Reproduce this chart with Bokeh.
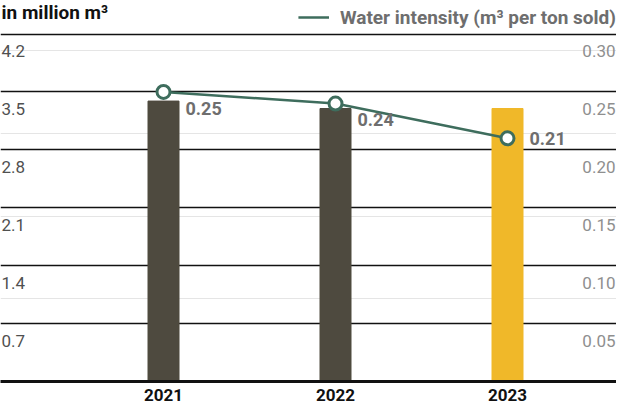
from bokeh.plotting import figure
from bokeh.models import (Range1d, FixedTicker, Grid, Label, Legend,
                          LegendItem, ColumnDataSource)
from bokeh.core.properties import value
from bokeh.embed import file_html
from bokeh.resources import INLINE

# ---- data ----
years = [2021, 2022, 2023]
year_labels = ["2021", "2022", "2023"]
volume = [3.39, 3.30, 3.30]          # million m³ (bars)
intensity = [0.25, 0.24, 0.21]        # m³ per ton sold (line)
intensity_labels = ["0.25", "0.24", "0.21"]
left_ticks = [0.7, 1.4, 2.1, 2.8, 3.5, 4.2]
left_tick_labels = ["0.7", "1.4", "2.1", "2.8", "3.5", "4.2"]
right_ticks = [0.05, 0.10, 0.15, 0.20, 0.25, 0.30]
right_tick_labels = ["0.05", "0.10", "0.15", "0.20", "0.25", "0.30"]

# ---- style ----
FONT = "Roboto"
bar_colors = ["#4e4a3f", "#4e4a3f", "#f0b829"]
green = "#3e6d5d"
W, H = 616, 403
BOTTOM = 17
frame_h = H - BOTTOM
top_px = 352  # px between 0 and top tick
px_per_year = 172.0
first_center_px = 163.0
x0 = years[0] - first_center_px / px_per_year

p = figure(width=W, height=H, output_backend="svg", toolbar_location=None,
           x_range=Range1d(x0, x0 + W / px_per_year),
           y_range=Range1d(0, left_ticks[-1] * frame_h / top_px),
           y_axis_location=None, x_axis_location="below",
           min_border_left=0, min_border_right=0, min_border_top=0,
           min_border_bottom=BOTTOM)
p.extra_y_ranges = {"right": Range1d(0, right_ticks[-1] * frame_h / top_px)}
p.outline_line_color = None
p.xgrid.visible = False
p.background_fill_color = "white"
p.border_fill_color = "white"

grid = Grid(dimension=1, ticker=FixedTicker(ticks=left_ticks),
            grid_line_color="#111111", grid_line_width=1.7)
p.add_layout(grid)

xa = p.xaxis[0]
xa.ticker = FixedTicker(ticks=years)
xa.major_label_overrides = {y: l for y, l in zip(years, year_labels)}
xa.axis_line_color = "#111111"
xa.axis_line_width = 3
xa.major_tick_line_color = None
xa.minor_tick_line_color = None
xa.major_label_text_font = FONT
xa.major_label_text_font_style = "bold"
xa.major_label_text_font_size = "17px"
xa.major_label_text_color = "#111111"
xa.major_label_standoff = 1

src = ColumnDataSource(dict(x=years, top=volume, color=bar_colors))
p.vbar(x="x", top="top", width=31 / px_per_year, color="color", source=src)

line_r = p.line(years, intensity, y_range_name="right", line_color=green, line_width=2.5)
p.scatter(years, intensity, y_range_name="right", size=13, fill_color="white",
          line_color=green, line_width=3)

label_dy = [17, 16, 0]
p.text(x=years, y=intensity, text=intensity_labels, y_range_name="right",
       x_offset=22, y_offset=label_dy, text_baseline="middle", text_align="left",
       text_font=value(FONT), text_font_style="bold", text_font_size="18px",
       text_color="#6e6e6e")

for v, t in zip(left_ticks, left_tick_labels):
    p.add_layout(Label(x=1, x_units="screen", y=v, y_offset=-11, text=t,
                       text_baseline="top", text_align="left", text_font=FONT,
                       text_font_size="17px", text_color="#505050"))
for v, t in zip(right_ticks, right_tick_labels):
    p.add_layout(Label(x=W - 1, x_units="screen", y=v, y_range_name="right",
                       y_offset=-11, text=t, text_baseline="top", text_align="right",
                       text_font=FONT, text_font_size="17px", text_color="#8f8f8f"))

p.add_layout(Label(x=1, x_units="screen", y=frame_h - 17, y_units="screen",
                   text="in million m³", text_baseline="middle", text_align="left",
                   text_font=FONT, text_font_style="bold", text_font_size="19px",
                   text_color="#111111"))

legend = Legend(items=[LegendItem(label="Water intensity (m³ per ton sold)", renderers=[line_r])],
                location="top_right", margin=0, padding=0, glyph_width=31,
                label_standoff=11, label_text_font=FONT, label_text_font_style="bold",
                label_text_font_size="19px", label_text_color="#6e6e6e",
                label_height=34, glyph_height=34,
                background_fill_alpha=0, border_line_alpha=0)
p.add_layout(legend)

open("out.html", "w").write(file_html(p, INLINE))
